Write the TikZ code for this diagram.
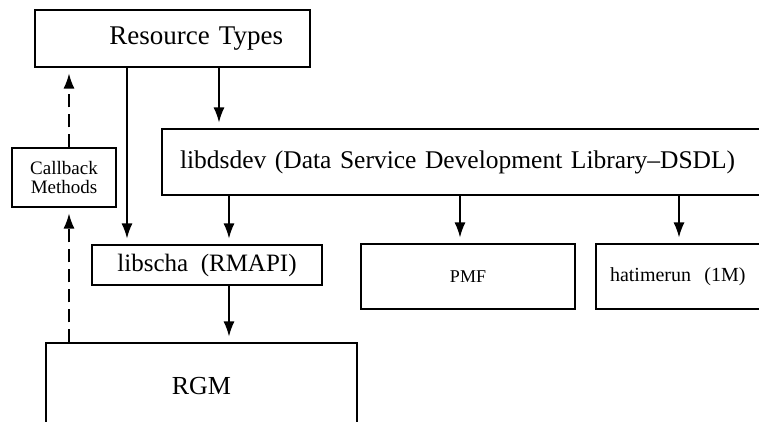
\documentclass[tikz,border=0pt]{standalone}
\usepackage{fontspec}
\setmainfont{Liberation Serif}
\usetikzlibrary{arrows.meta,positioning}

\begin{document}
\begin{tikzpicture}[x=1pt,y=-1pt,
        box/.style={draw, line width=1.2pt, inner ysep=0pt},
        arr/.style={line width=1.3pt, -{Latex[length=15pt,width=11pt]}, shorten >=6pt},
        dasharr/.style={arr, dash pattern=on 13pt off 7pt}]
    \useasboundingbox (0,0) rectangle (759,422);
    % boxes
    \node[box, minimum width=275pt, minimum height=57pt, inner xsep=27pt,
        text width=221pt, align=right, font=\fontsize{27}{30}\selectfont] (rt) at (172.5,38.5) {Resource Types};
    \node[box, minimum width=104pt, minimum height=59pt, align=center,
        font=\fontsize{19}{19}\selectfont] (cb) at (64,177.5) {Callback\\Methods};
    \node[box, minimum width=638pt, minimum height=66pt, inner xsep=18pt,
        text width=602pt, align=left, font=\fontsize{25.5}{30}\selectfont] (ds) at (481,162)
        {libdsdev (Data Service Development Library--DSDL)};
    \node[box, minimum width=230pt, minimum height=40pt,
        font=\fontsize{25}{30}\selectfont] (rm) at (207,265) {libscha\ \ (RMAPI)};
    \node[box, minimum width=214pt, minimum height=65pt,
        font=\fontsize{18}{20}\selectfont] (pmf) at (468,276.5) {PMF};
    \node[box, minimum width=194pt, minimum height=65pt, inner xsep=14pt,
        text width=166pt, align=left, font=\fontsize{20}{22}\selectfont] (hr) at (693,276.5) {hatimerun\ \ (1M)};
    \node[box, minimum width=311pt, minimum height=86pt,
        font=\fontsize{26}{30}\selectfont] (rgm) at (201.5,386) {RGM};
    % x positions of the connectors
    \coordinate (xa) at (127,0);
    \coordinate (xb) at (219,0);
    \coordinate (xc) at (229,0);
    \coordinate (xd) at (460,0);
    \coordinate (xe) at (679,0);
    \coordinate (xf) at (69,0);
    % connectors
    \draw[arr] (rt.south -| xa) -- (rm.north -| xa);
    \draw[arr] (rt.south -| xb) -- (ds.north -| xb);
    \draw[arr] (ds.south -| xc) -- (rm.north -| xc);
    \draw[arr] (ds.south -| xd) -- (pmf.north -| xd);
    \draw[arr] (ds.south -| xe) -- (hr.north -| xe);
    \draw[arr] (rm.south -| xc) -- (rgm.north -| xc);
    \draw[dasharr] (rgm.north -| xf) -- (cb.south -| xf);
    \draw[dasharr] (cb.north -| xf) -- (rt.south -| xf);
\end{tikzpicture}
\end{document}
